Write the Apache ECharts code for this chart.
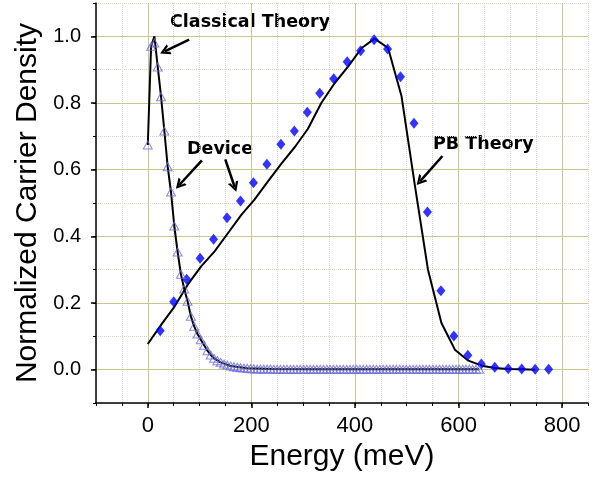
<!DOCTYPE html>
<html>
<head>
<meta charset="utf-8">
<script src="https://cdn.jsdelivr.net/npm/echarts@6/dist/echarts.min.js"></script>
<style>
html, body { margin: 0; padding: 0; background: #fff; }
#chart { width: 606px; height: 479px; }
</style>
</head>
<body>
<div id="chart"></div>
<script>
// 三角点 (device, on the classical curve)
const triE = [0, 6.4, 12.8, 19.2, 25.6, 32, 38.4, 44.8, 51.2, 57.6,
  64, 70.4, 76.8, 83.2, 89.6, 96, 102.4, 108.8, 115.2, 121.6,
  128, 134.4, 140.8, 147.2, 153.6, 160, 166.4, 172.8, 179.2, 185.6,
  192, 198.4, 204.8, 211.2, 217.6, 224, 230.4, 236.8, 243.2, 249.6,
  256, 262.4, 268.8, 275.2, 281.6, 288, 294.4, 300.8, 307.2, 313.6,
  320, 326.4, 332.8, 339.2, 345.6, 352, 358.4, 364.8, 371.2, 377.6,
  384, 390.4, 396.8, 403.2, 409.6, 416, 422.4, 428.8, 435.2, 441.6,
  448, 454.4, 460.8, 467.2, 473.6, 480, 486.4, 492.8, 499.2, 505.6,
  512, 518.4, 524.8, 531.2, 537.6, 544, 550.4, 556.8, 563.2, 569.6,
  576, 582.4, 588.8, 595.2, 601.6, 608, 614.4, 620.8, 627.2, 633.6,
  640];
const triN = [0.674, 0.970, 0.980, 0.908, 0.819, 0.716, 0.609, 0.533, 0.431, 0.353,
  0.286, 0.242, 0.205, 0.160, 0.130, 0.107, 0.090, 0.073, 0.057, 0.044,
  0.034, 0.027, 0.022, 0.017, 0.014, 0.011, 0.009, 0.007, 0.006, 0.005,
  0.004, 0.003, 0.003, 0.002, 0.002, 0.002, 0.002, 0.002, 0.001, 0.001,
  0.001, 0.001, 0.001, 0.001, 0.001, 0.001, 0.001, 0.001, 0.001, 0.001,
  0.001, 0.001, 0.001, 0.001, 0.001, 0.001, 0.001, 0.001, 0.001, 0.001,
  0.001, 0.001, 0.001, 0.001, 0.001, 0.001, 0.001, 0.001, 0.001, 0.001,
  0.001, 0.001, 0.001, 0.001, 0.001, 0.001, 0.001, 0.001, 0.001, 0.001,
  0.001, 0.001, 0.001, 0.001, 0.001, 0.001, 0.001, 0.001, 0.001, 0.001,
  0.001, 0.001, 0.001, 0.001, 0.001, 0.001, 0.001, 0.001, 0.001, 0.001,
  0.001];

// Classical Theory (black line)
const classicalE = [0, 6.4, 12.8, 19.2, 25.6, 32, 38.4, 44.8, 51.2, 57.6, 64, 70.4, 76.8, 83.2, 89.6,
  96, 102.4, 108.8, 115.2, 121.6, 128, 140.8, 160, 192, 240, 320, 640];
const classicalN = [0.674, 0.970, 1.000, 0.908, 0.819, 0.716, 0.609, 0.533, 0.431, 0.353, 0.286, 0.242, 0.205, 0.160, 0.130,
  0.107, 0.090, 0.073, 0.057, 0.044, 0.034, 0.022, 0.011, 0.004, 0.002, 0.001, 0.001];

// Device (blue diamonds)
const devE = [24, 50, 75, 101, 127, 153, 179, 204, 230, 257, 283, 308, 332, 359, 385,
  411, 437, 463, 488, 514, 540, 566, 591, 618, 644, 670, 696, 722, 748, 774];
const devN = [0.117, 0.204, 0.271, 0.334, 0.391, 0.456, 0.506, 0.561, 0.616, 0.676, 0.716, 0.772, 0.829, 0.873, 0.924,
  0.957, 0.990, 0.962, 0.879, 0.739, 0.473, 0.237, 0.101, 0.043, 0.017, 0.007, 0.003, 0.002, 0.001, 0.001];

// PB Theory (black line)
const pbE = [0, 26, 52, 77, 103, 129, 155, 181, 206, 232, 258, 284, 309, 335, 361,
  387, 413, 438, 464, 490, 516, 541, 567, 593, 619, 645, 670, 696, 722, 748];
const pbN = [0.077, 0.135, 0.190, 0.255, 0.310, 0.355, 0.410, 0.465, 0.510, 0.565, 0.618, 0.668, 0.722, 0.800, 0.860,
  0.910, 0.965, 0.993, 0.965, 0.820, 0.550, 0.300, 0.140, 0.060, 0.027, 0.012, 0.005, 0.002, 0.001, 0.000];

// axis ticks
const xTicks = [0, 200, 400, 600, 800];
const yTicks = [0, 0.2, 0.4, 0.6, 0.8, 1.0];

// annotation arrows [from, to] in data coords
const arrows = [
  [[79.9, 0.990], [32.5, 0.955]],
  [[104.5, 0.628], [60.8, 0.554]],
  [[149.6, 0.631], [167.8, 0.548]],
  [[569, 0.641], [525.6, 0.565]]
];

const zip = (a, b) => a.map((v, i) => [v, b[i]]);

const FONT = 'Liberation Sans, Arial, sans-serif';
const MAJOR = '#c8c88e';
const MINOR = '#d6d6c4';
const chevron = 'path://M5,0 L10,10 L7.6,10 L5,4.2 L2.4,10 L0,10 Z';

let myChart = echarts.init(document.getElementById('chart'));
let option = {
  animation: false,
  backgroundColor: '#fff',
  grid: { left: 96, right: 18, top: 3, bottom: 76, containLabel: false, outerBoundsMode: 'none' },
  xAxis: [
    {
      type: 'value', min: -100, max: 850, position: 'bottom', z: 1,
      name: 'Energy (meV)', nameLocation: 'middle', nameGap: 36,
      nameTextStyle: { fontSize: 30, color: '#000', fontFamily: FONT },
      axisLine: { onZero: false, lineStyle: { color: '#000', width: 1.5 } },
      axisTick: { customValues: xTicks, length: 5, lineStyle: { color: '#000', width: 1.5 } },
      axisLabel: { customValues: xTicks, fontSize: 22, color: '#000', margin: 12, fontFamily: FONT },
      splitLine: { show: true, lineStyle: { color: MAJOR, width: 1 } }
    },
    {
      type: 'value', min: -100, max: 850, interval: 50, position: 'bottom', z: 0,
      axisLine: { show: false, onZero: false },
      axisTick: { length: 3, lineStyle: { color: '#000', width: 1 } },
      axisLabel: { show: false },
      splitLine: { show: true, lineStyle: { color: MINOR, type: 'dotted', width: 1 } }
    }
  ],
  yAxis: [
    {
      type: 'value', min: -0.1, max: 1.1, position: 'left', z: 1,
      name: 'Normalized Carrier Density', nameLocation: 'middle', nameGap: 48,
      nameTextStyle: { fontSize: 30, color: '#000', fontFamily: FONT },
      axisLine: { onZero: false, lineStyle: { color: '#000', width: 1.5 } },
      axisTick: { customValues: yTicks, length: 5, lineStyle: { color: '#000', width: 1.5 } },
      axisLabel: {
        customValues: yTicks, fontSize: 20, color: '#000', margin: 15, fontFamily: FONT,
        formatter: v => v.toFixed(1)
      },
      splitLine: { show: true, lineStyle: { color: MAJOR, width: 1 } }
    },
    {
      type: 'value', min: -0.1, max: 1.1, interval: 0.1, position: 'left', z: 0,
      axisLine: { show: false, onZero: false },
      axisTick: { length: 3, lineStyle: { color: '#000', width: 1 } },
      axisLabel: { show: false },
      splitLine: { show: true, lineStyle: { color: MINOR, type: 'dotted', width: 1 } }
    }
  ],
  series: [
    {
      name: 'Classical Theory', type: 'line', z: 3,
      symbol: 'none', lineStyle: { color: '#000', width: 2 },
      data: zip(classicalE, classicalN)
    },
    {
      name: 'PB Theory', type: 'line', z: 3,
      symbol: 'none', lineStyle: { color: '#000', width: 2 },
      data: zip(pbE, pbN)
    },
    {
      name: 'Device', type: 'scatter', z: 4,
      symbol: 'diamond', symbolSize: [9, 11],
      itemStyle: { color: '#0000ff' },
      data: zip(devE, devN)
    },
    {
      name: 'Device (classical)', type: 'scatter', z: 5,
      symbol: 'triangle', symbolSize: [9, 8],
      itemStyle: { color: 'rgba(255,255,255,0)', borderColor: '#6b6bd6', borderWidth: 1 },
      data: zip(triE, triN)
    },
    {
      name: 'arrows', type: 'line', z: 6, data: [],
      markLine: {
        silent: true, animation: false,
        symbol: ['none', chevron], symbolSize: [11, 10],
        label: { show: false },
        emphasis: { disabled: true },
        lineStyle: { color: '#000', width: 2.5, type: 'solid' },
        data: arrows.map(a => [{ coord: a[0] }, { coord: a[1] }])
      }
    }
  ],
  graphic: [
    { type: 'text', left: 170, top: 13, style: { text: 'Classical Theory', fontSize: 17.5, fontWeight: 'bold', fontFamily: 'DejaVu Sans', fill: '#000' } },
    { type: 'text', left: 187, top: 140, style: { text: 'Device', fontSize: 17.5, fontWeight: 'bold', fontFamily: 'DejaVu Sans', fill: '#000' } },
    { type: 'text', left: 433, top: 135, style: { text: 'PB Theory', fontSize: 17.5, fontWeight: 'bold', fontFamily: 'DejaVu Sans', fill: '#000' } }
  ]
};
myChart.setOption(option);
</script>
</body>
</html>
